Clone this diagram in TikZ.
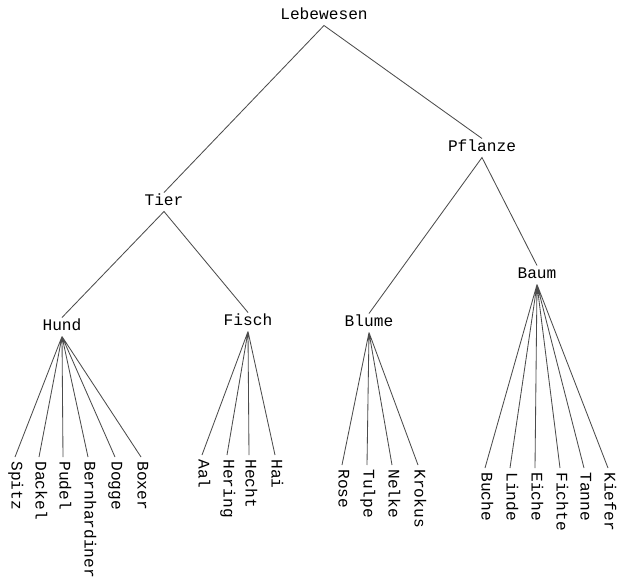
\documentclass[tikz,border=0pt]{standalone}
\usepackage{fontspec}
\newfontfamily\treefont{Liberation Mono}
\tikzset{
  term/.style={font=\treefont\fontsize{11.5}{13}\selectfont, inner sep=3pt, text height=1.4ex, text depth=.25ex},
  leaf/.style={term, rotate=-90, anchor=west},
  branch/.style={draw=black!70, line width=0.6pt}
}

\begin{document}
\begin{tikzpicture}[x=0.025cm, y=-0.025cm]
        \useasboundingbox (0,0) rectangle (620,585);

        % inner nodes
        \node[term] (leb) at (324,16) {Lebewesen};
        \node[term] (tier) at (164,202) {Tier};
        \node[term] (pfl) at (482,148) {Pflanze};
        \node[term] (hund) at (62,327) {Hund};
        \node[term] (fisch) at (248,322) {Fisch};
        \node[term] (blume) at (369,323) {Blume};
        \node[term] (baum) at (537,275) {Baum};

        % leaves, written top to bottom
        \node[leaf] (spitz) at (15,457) {Spitz};
        \node[leaf] (dackel) at (39,457) {Dackel};
        \node[leaf] (pudel) at (63,457) {Pudel};
        \node[leaf] (bernh) at (88,457) {Bernhardiner};
        \node[leaf] (dogge) at (115,457) {Dogge};
        \node[leaf] (boxer) at (141,457) {Boxer};

        \node[leaf] (aal) at (202,455) {Aal};
        \node[leaf] (hering) at (227,455) {Hering};
        \node[leaf] (hecht) at (249,455) {Hecht};
        \node[leaf] (hai) at (275,455) {Hai};

        \node[leaf] (rose) at (342,465) {Rose};
        \node[leaf] (tulpe) at (367,465) {Tulpe};
        \node[leaf] (nelke) at (392,465) {Nelke};
        \node[leaf] (krokus) at (418,465) {Krokus};

        \node[leaf] (buche) at (485,468) {Buche};
        \node[leaf] (linde) at (510,468) {Linde};
        \node[leaf] (eiche) at (535,468) {Eiche};
        \node[leaf] (fichte) at (560,468) {Fichte};
        \node[leaf] (tanne) at (584,468) {Tanne};
        \node[leaf] (kiefer) at (608,468) {Kiefer};

        % branches
        \draw[branch] (tier.north) -- (leb.south) -- (pfl.north);
        \draw[branch] (hund.north) -- (tier.south) -- (fisch.north);
        \draw[branch] (blume.north) -- (pfl.south) -- (baum.north);

        \draw[branch] (hund.south) -- (spitz.west) (hund.south) -- (dackel.west)
            (hund.south) -- (pudel.west) (hund.south) -- (bernh.west)
            (hund.south) -- (dogge.west) (hund.south) -- (boxer.west);
        \draw[branch] (fisch.south) -- (aal.west) (fisch.south) -- (hering.west)
            (fisch.south) -- (hecht.west) (fisch.south) -- (hai.west);
        \draw[branch] (blume.south) -- (rose.west) (blume.south) -- (tulpe.west)
            (blume.south) -- (nelke.west) (blume.south) -- (krokus.west);
        \draw[branch] (baum.south) -- (buche.west) (baum.south) -- (linde.west)
            (baum.south) -- (eiche.west) (baum.south) -- (fichte.west)
            (baum.south) -- (tanne.west) (baum.south) -- (kiefer.west);
\end{tikzpicture}
\end{document}
